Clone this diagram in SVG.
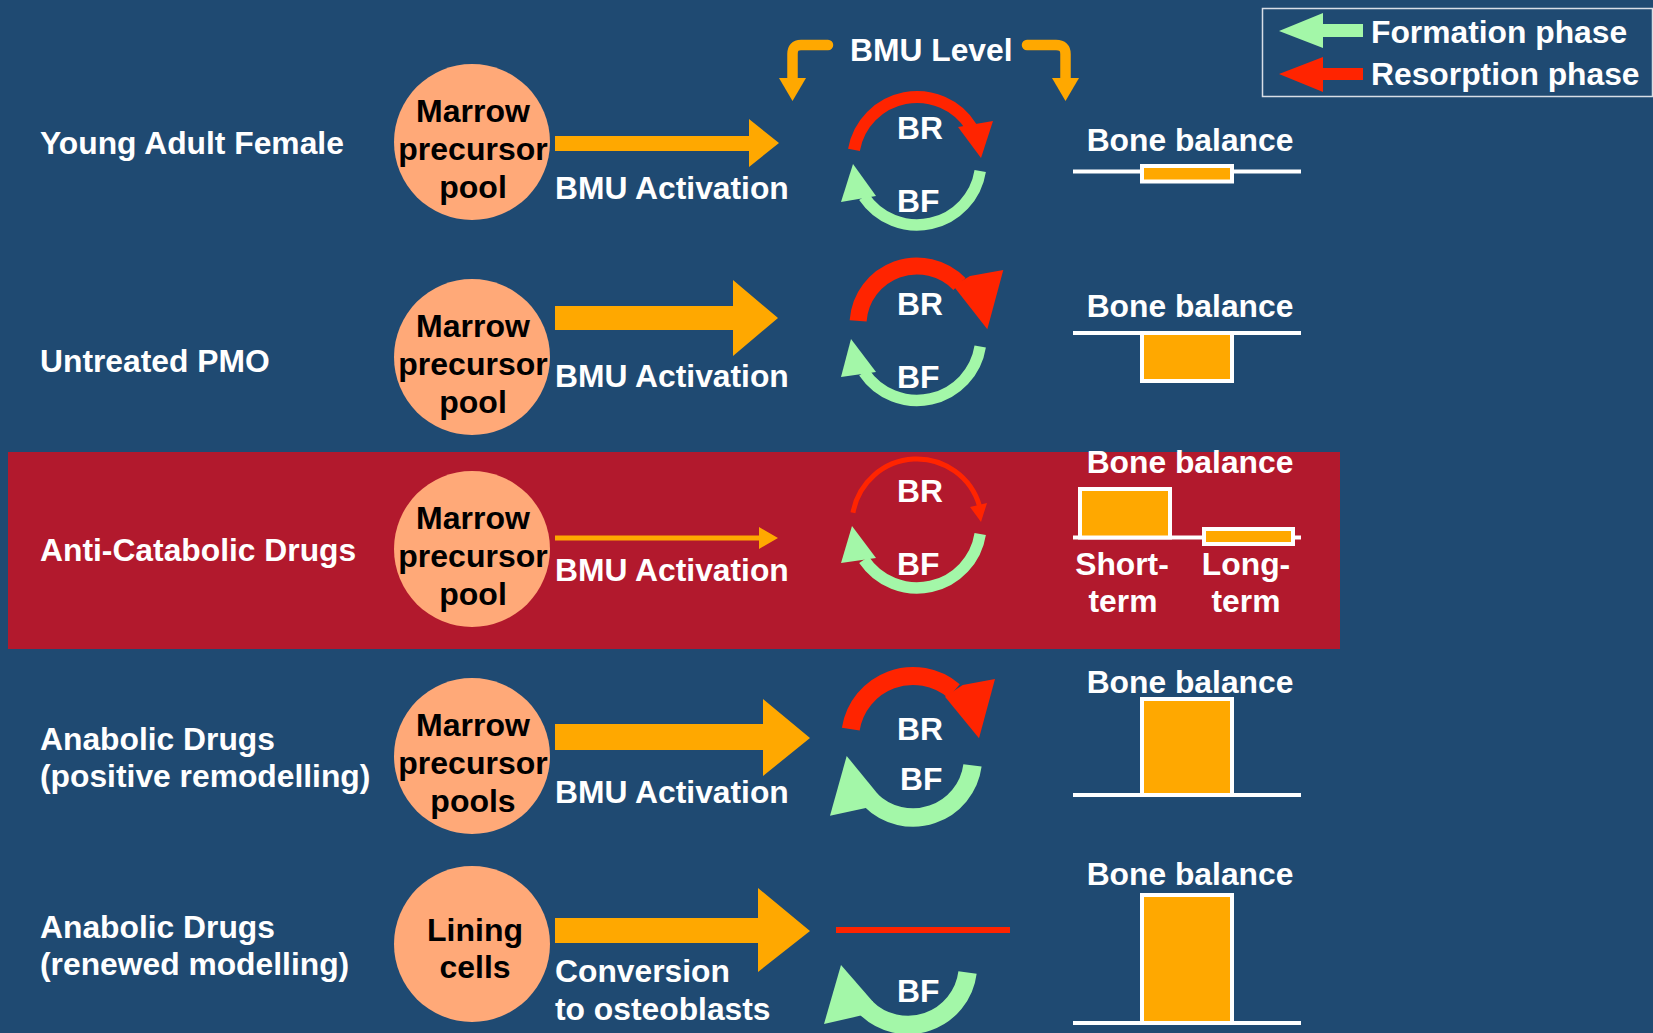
<svg xmlns="http://www.w3.org/2000/svg" width="1653" height="1033" viewBox="0 0 1653 1033">
  <style>
    .t { font-family: "Liberation Sans", Arial, sans-serif; font-weight: bold; font-size: 31.8px; fill: #ffffff; }
    .pool { fill: #FFA978; }
    .ptxt { font-family: "Liberation Sans", Arial, sans-serif; font-weight: bold; font-size: 32px; fill: #000000; text-anchor: middle; }
    .mid { text-anchor: middle; }
    .orange { fill: #FFA800; }
    .br { fill: none; stroke: #FF2400; }
    .bf { fill: none; stroke: #A3F7A8; }
    .brh { fill: #FF2400; }
    .bfh { fill: #A3F7A8; }
    .axis { stroke: #ffffff; stroke-width: 4; }
    .bal { fill: #FFA800; stroke: #ffffff; stroke-width: 4; }
  </style>

  <!-- background and highlighted row -->
  <rect x="0" y="0" width="1653" height="1033" fill="#1F4A72"/>
  <rect x="8" y="452" width="1332" height="197" fill="#B2192D"/>

  <!-- legend -->
  <g id="legend">
    <rect x="1262.5" y="8.5" width="390" height="88" fill="none" stroke="#D8DEE6" stroke-width="1.5"/>
    <polygon class="bfh" points="1279,31 1323,13 1323,24 1363,24 1363,37 1323,37 1323,48"/>
    <polygon class="brh" points="1279,74 1323,57 1323,68 1363,68 1363,80 1323,80 1323,92"/>
    <text class="t" x="1371" y="43">Formation phase</text>
    <text class="t" x="1371" y="85">Resorption phase</text>
  </g>

  <!-- BMU level header -->
  <g id="bmu-level">
    <text class="t" x="850" y="61">BMU Level</text>
    <path d="M828,45 H801 Q792.5,45 792.5,54 V80" fill="none" stroke="#FFA800" stroke-width="10.5" stroke-linecap="round"/>
    <polygon class="orange" points="779,78 806,78 792.5,101"/>
    <path d="M1027,45 H1056 Q1065.5,45 1065.5,54 V80" fill="none" stroke="#FFA800" stroke-width="10.5" stroke-linecap="round"/>
    <polygon class="orange" points="1052,78 1079,78 1065.5,101"/>
  </g>

  <!-- row labels -->
  <g id="labels">
    <text class="t" x="40" y="154">Young Adult Female</text>
    <text class="t" x="40" y="372">Untreated PMO</text>
    <text class="t" x="40" y="561">Anti-Catabolic Drugs</text>
    <text class="t" x="40" y="750">Anabolic Drugs</text>
    <text class="t" x="40" y="787">(positive remodelling)</text>
    <text class="t" x="40" y="938">Anabolic Drugs</text>
    <text class="t" x="40" y="975">(renewed modelling)</text>
  </g>

  <!-- cell pools -->
  <g id="pool-1">
    <circle class="pool" cx="472" cy="142" r="78"/>
    <text class="ptxt" x="473" y="122">Marrow</text>
    <text class="ptxt" x="473" y="160">precursor</text>
    <text class="ptxt" x="473" y="198">pool</text>
  </g>
  <g id="pool-2">
    <circle class="pool" cx="472" cy="357" r="78"/>
    <text class="ptxt" x="473" y="337">Marrow</text>
    <text class="ptxt" x="473" y="375">precursor</text>
    <text class="ptxt" x="473" y="413">pool</text>
  </g>
  <g id="pool-3">
    <circle class="pool" cx="472" cy="549" r="78"/>
    <text class="ptxt" x="473" y="529">Marrow</text>
    <text class="ptxt" x="473" y="567">precursor</text>
    <text class="ptxt" x="473" y="605">pool</text>
  </g>
  <g id="pool-4">
    <circle class="pool" cx="472" cy="756" r="78"/>
    <text class="ptxt" x="473" y="736">Marrow</text>
    <text class="ptxt" x="473" y="774">precursor</text>
    <text class="ptxt" x="473" y="812">pools</text>
  </g>
  <g id="pool-5">
    <circle class="pool" cx="472" cy="944" r="78"/>
    <text class="ptxt" x="475" y="941">Lining</text>
    <text class="ptxt" x="475" y="978">cells</text>
  </g>

  <!-- activation arrows -->
  <g id="connectors">
    <polygon class="orange" points="555,136 749,136 749,119 779,143 749,167 749,151 555,151"/>
    <polygon class="orange" points="555,306 733,306 733,280 778,318 733,356 733,330 555,330"/>
    <polygon class="orange" points="555,535.5 759,535.5 759,527 778,538 759,549 759,540.5 555,540.5"/>
    <polygon class="orange" points="555,724 763,724 763,699 810,738 763,776 763,750 555,750"/>
    <polygon class="orange" points="555,918 758,918 758,888 810,931 758,972 758,943 555,943"/>
  </g>
  <g id="activation-labels">
    <text class="t" x="555" y="199">BMU Activation</text>
    <text class="t" x="555" y="387">BMU Activation</text>
    <text class="t" x="555" y="581">BMU Activation</text>
    <text class="t" x="555" y="803">BMU Activation</text>
    <text class="t" x="555" y="982">Conversion</text>
    <text class="t" x="555" y="1020">to osteoblasts</text>
  </g>

  <!-- remodelling cycles -->
  <g id="cycle-1">
    <path class="br" stroke-width="12" d="M853.97,149.89 A64,64 0 0 1 971.27,127.09"/>
    <polygon class="brh" points="958,127 993,121 981,158"/>
    <path class="bf" stroke-width="11.5" d="M980.21,171.01 A64,64 0 0 1 863.94,196.79"/>
    <polygon class="bfh" points="853,164 841,202 876,196"/>
    <text class="t" x="897" y="139">BR</text>
    <text class="t" x="897" y="212">BF</text>
  </g>
  <g id="cycle-2">
    <path class="br" stroke-width="17" d="M858.14,320.88 A59,59 0 0 1 959.44,284.01"/>
    <polygon class="brh" points="953.3,285.7 970,276 1003.3,270 987.3,329.3"/>
    <path class="bf" stroke-width="11.5" d="M980.21,346.51 A64,64 0 0 1 863.94,372.29"/>
    <polygon class="bfh" points="851,339 841,377 876,372"/>
    <text class="t" x="897" y="315">BR</text>
    <text class="t" x="897" y="388">BF</text>
  </g>
  <g id="cycle-3">
    <path class="br" stroke-width="5" d="M852.99,512.71 A65,65 0 0 1 979.48,506.08"/>
    <polygon class="brh" points="970,507 987,503 981,522"/>
    <path class="bf" stroke-width="11.5" d="M980.21,534.01 A64,64 0 0 1 863.94,559.79"/>
    <polygon class="bfh" points="852,526 841,563 876,558"/>
    <text class="t" x="897" y="502">BR</text>
    <text class="t" x="897" y="575">BF</text>
  </g>
  <g id="cycle-4">
    <path class="br" stroke-width="18" d="M850.78,729.15 A63,63 0 0 1 953.91,691.09"/>
    <polygon class="brh" points="945,696.7 962.7,685 995,679 979,738.3"/>
    <path class="bf" stroke-width="18.4" d="M972.49,765.33 A60,60 0 0 1 870.57,799.93"/>
    <polygon class="bfh" points="846.7,756 830,815.7 865.8,808.1 878.4,794.7"/>
    <text class="t" x="897" y="740">BR</text>
    <text class="t" x="900" y="790">BF</text>
  </g>
  <g id="cycle-5">
    <line x1="836" y1="930" x2="1010" y2="930" stroke="#FF2400" stroke-width="6"/>
    <path class="bf" stroke-width="18.4" d="M967.53,972.52 A60,60 0 0 1 865.57,1007.43"/>
    <polygon class="bfh" points="841,965 824,1024 860.8,1015.6 873.4,1002.2"/>
    <text class="t" x="897" y="1002">BF</text>
  </g>

  <!-- bone balance charts -->
  <g id="balance-1">
    <text class="t mid" x="1190" y="151">Bone balance</text>
    <line class="axis" x1="1073" y1="171.5" x2="1301" y2="171.5"/>
    <rect class="bal" x="1142" y="166" width="90" height="15.5"/>
  </g>
  <g id="balance-2">
    <text class="t mid" x="1190" y="317">Bone balance</text>
    <line class="axis" x1="1073" y1="333" x2="1301" y2="333"/>
    <rect class="bal" x="1142" y="333" width="90" height="48"/>
  </g>
  <g id="balance-3">
    <text class="t mid" x="1190" y="473">Bone balance</text>
    <line class="axis" x1="1073" y1="537.5" x2="1301" y2="537.5"/>
    <rect class="bal" x="1080" y="489" width="90" height="48.5"/>
    <rect class="bal" x="1204" y="529" width="89" height="15"/>
    <text class="t mid" x="1122" y="575">Short-</text>
    <text class="t mid" x="1123" y="612">term</text>
    <text class="t mid" x="1246" y="575">Long-</text>
    <text class="t mid" x="1246" y="612">term</text>
  </g>
  <g id="balance-4">
    <text class="t mid" x="1190" y="693">Bone balance</text>
    <rect class="bal" x="1142" y="699" width="90" height="96"/>
    <line class="axis" x1="1073" y1="795" x2="1301" y2="795"/>
  </g>
  <g id="balance-5">
    <text class="t mid" x="1190" y="885">Bone balance</text>
    <rect class="bal" x="1142" y="895" width="90" height="128"/>
    <line class="axis" x1="1073" y1="1023" x2="1301" y2="1023"/>
  </g>
</svg>
